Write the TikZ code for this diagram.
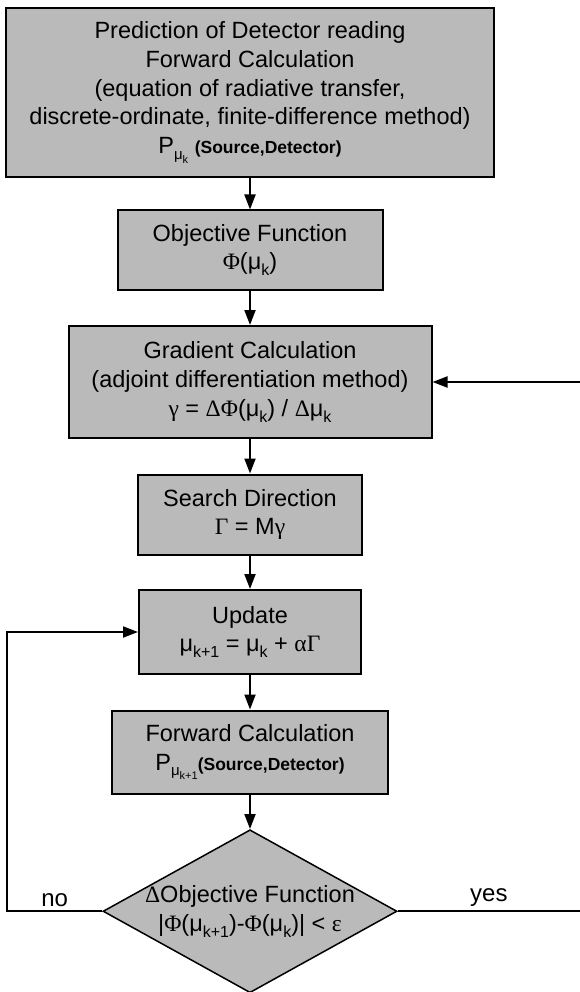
\documentclass[tikz,border=0pt]{standalone}
\usepackage{fontspec}
\setmainfont{Liberation Sans}
\newfontfamily\symfont{Liberation Serif}
\usetikzlibrary{positioning, shapes.geometric, arrows.meta}

\newcommand{\lowidx}[2][16]{\raisebox{-0.25em}{\fontsize{#1}{#1}\selectfont #2}}
\newcommand{\srcdet}{{\fontsize{17.5}{20}\selectfont\bfseries (Source,Detector)}}

\begin{document}
\begin{tikzpicture}[
        x=1pt, y=-1pt,
        stepbox/.style={
                rectangle,
                draw=black,
                fill=black!27,
                line width=2pt,
                align=center,
                font=\fontsize{23.5}{28.7}\selectfont
            },
        decision/.style={
                diamond,
                aspect=1.8,
                inner sep=-6pt,
                draw=black,
                fill=black!27,
                line width=1.5pt,
                align=center,
                font=\fontsize{23.5}{28.7}\selectfont
            },
        answer/.style = {font=\fontsize{24}{26}\selectfont},
        >={Triangle[length=15pt,width=11pt]},
        line width=2pt
    ]
    \useasboundingbox (0,0) rectangle (580,992);

    \node[stepbox, minimum width=488pt, minimum height=169pt] (predict) at (250,92.5) {
        Prediction of Detector reading\\
        Forward Calculation\\
        (equation of radiative transfer,\\
        discrete-ordinate, finite-difference method)\\
        P\lowidx[15]{μ\lowidx[11]{k}}\ \srcdet
    };
    \node[stepbox, minimum width=265pt, minimum height=79pt] (objective) [below=31.5pt of predict] {
        Objective Function\\
        {\symfont Φ}(μ\lowidx{k})
    };
    \node[stepbox, minimum width=363pt, minimum height=112pt] (grad) [below=34.5pt of objective] {
        Gradient Calculation\\
        (adjoint differentiation method)\\
        {\symfont γ} = {\symfont ΔΦ}(μ\lowidx{k}) / {\symfont Δ}μ\lowidx{k}
    };
    \node[stepbox, minimum width=224pt, minimum height=80pt] (search) [below=34.5pt of grad] {
        Search Direction\\
        {\symfont Γ} = M{\symfont γ}
    };
    \node[stepbox, minimum width=222pt, minimum height=84pt] (update) [below=33.5pt of search] {
        Update\\
        μ\lowidx{k+1} = μ\lowidx{k} + {\symfont αΓ}
    };
    \node[stepbox, minimum width=276pt, minimum height=83pt] (forward) [below=34.5pt of update] {
        Forward Calculation\\
        P\lowidx[15]{μ\lowidx[11]{k+1}}\srcdet
    };
    \node[decision, minimum width=294pt, minimum height=163pt] (check) [below=34.5pt of forward] {
        {\symfont Δ}Objective Function\\
        |{\symfont Φ}(μ\lowidx{k+1})-{\symfont Φ}(μ\lowidx{k})| < {\symfont ε}
    };

    \coordinate (leftedge) at (7,0);
    \coordinate (rightedge) at (580,0);

    \path[->] (predict) edge (objective)
        (objective) edge (grad)
        (grad) edge (search)
        (search) edge (update)
        (update) edge (forward)
        (forward) edge (check);

    \draw[->] (grad.east -| rightedge) -- (grad.east);
    \draw[->] (check.west) -- node[answer, above] {no} (check.west -| leftedge) |- (update.west);
    \draw (check.east) -- node[answer, above] {yes} (check.east -| rightedge);
\end{tikzpicture}
\end{document}
